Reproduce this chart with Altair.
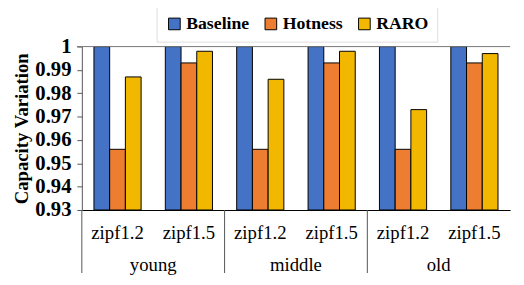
import altair as alt
import pandas as pd

ages = ["young", "middle", "old"]
zipfs = ["zipf1.2", "zipf1.5"]
series = ["Baseline", "Hotness", "RARO"]
colors = ["#4472C4", "#ED7D31", "#F2B800"]

baseline = [1.0, 1.0, 1.0, 1.0, 1.0, 1.0]
hotness = [0.956, 0.993, 0.956, 0.993, 0.956, 0.993]
raro = [0.987, 0.998, 0.986, 0.998, 0.973, 0.997]
yticks = [0.93, 0.94, 0.95, 0.96, 0.97, 0.98, 0.99, 1.0]

keys = [f"{a}|{z}" for a in ages for z in zipfs]
vals = {"Baseline": baseline, "Hotness": hotness, "RARO": raro}
rows = []
for s in series:
    for k, v in zip(keys, vals[s]):
        rows.append({"key": k, "series": s, "value": v})
df = pd.DataFrame(rows)

W, H = 435, 166
FONT = "Liberation Serif"

xscale = alt.Scale(domain=keys, paddingInner=0, paddingOuter=0)
yscale = alt.Scale(domain=[0.93, 1.0], zero=False, nice=False)

bars = alt.Chart(df).mark_bar(stroke="black", strokeWidth=1).encode(
    x=alt.X("key:N", scale=xscale, sort=keys,
            axis=alt.Axis(title=None, labelExpr="split(datum.label, '|')[1]",
                          ticks=False, labelAngle=0, labelFontSize=19,
                          labelFont=FONT, labelColor="black", labelPadding=14,
                          domainColor="black", domainWidth=1)),
    xOffset=alt.XOffset("series:N", sort=series,
                        scale=alt.Scale(paddingInner=0, paddingOuter=0.77)),
    y=alt.Y("value:Q", scale=yscale,
            axis=alt.Axis(title="Capacity Variation", values=yticks,
                          format=".2~f", grid=False, labelFontSize=21, labelFont=FONT,
                          labelFontWeight="bold", labelColor="black", tickSize=5,
                          labelOverlap=False, labelBound=False, labelFlush=False,
                          labelSeparation=0,
                          labelPadding=6, tickColor="#555", domainColor="#555",
                          titleFont=FONT, titleFontSize=19, titleFontWeight="bold",
                          titleColor="black", titlePadding=3)),
    y2=alt.datum(0.93),
    color=alt.Color("series:N", sort=series,
                    scale=alt.Scale(domain=series, range=colors),
                    legend=alt.Legend(orient="none", legendX=76, legendY=-41,
                                      direction="horizontal", title=None,
                                      strokeColor="#dddddd", padding=9,
                                      symbolType="square", symbolStrokeColor="black",
                                      symbolStrokeWidth=1, symbolSize=140,
                                      symbolOpacity=1,
                                      labelFontSize=18, labelFont=FONT,
                                      labelFontWeight="bold",
                                      labelColor="black", labelOffset=3,
                                      columnPadding=12)),
)

top_line = alt.Chart(pd.DataFrame({"k": [0]})).mark_rule(color="#777", strokeWidth=1).encode(
    y=alt.value(0), x=alt.value(-5), x2=alt.value(W))

sep_keys = [f"{a}|zipf1.2" for a in ages]
sep_df = pd.DataFrame({"key": sep_keys})
seps = alt.Chart(sep_df).mark_rule(color="#555", strokeWidth=1).encode(
    x=alt.X("key:N", bandPosition=0),
    y=alt.value(H), y2=alt.value(H + 64))

age_df = pd.DataFrame({"key": sep_keys, "age": ages})
age_text = alt.Chart(age_df).mark_text(fontSize=19, font=FONT, color="black",
                                       baseline="middle").encode(
    x=alt.X("key:N", bandPosition=1),
    y=alt.value(H + 56),
    text="age:N")

chart = alt.layer(bars, top_line, seps, age_text).properties(
    width=W, height=H,
    autosize=alt.AutoSizeParams(type="none"),
    padding={"left": 75, "top": 37, "right": 6, "bottom": 75},
).configure_view(stroke=None)

chart.save("out.html", embed_options={"renderer": "svg", "actions": False})
